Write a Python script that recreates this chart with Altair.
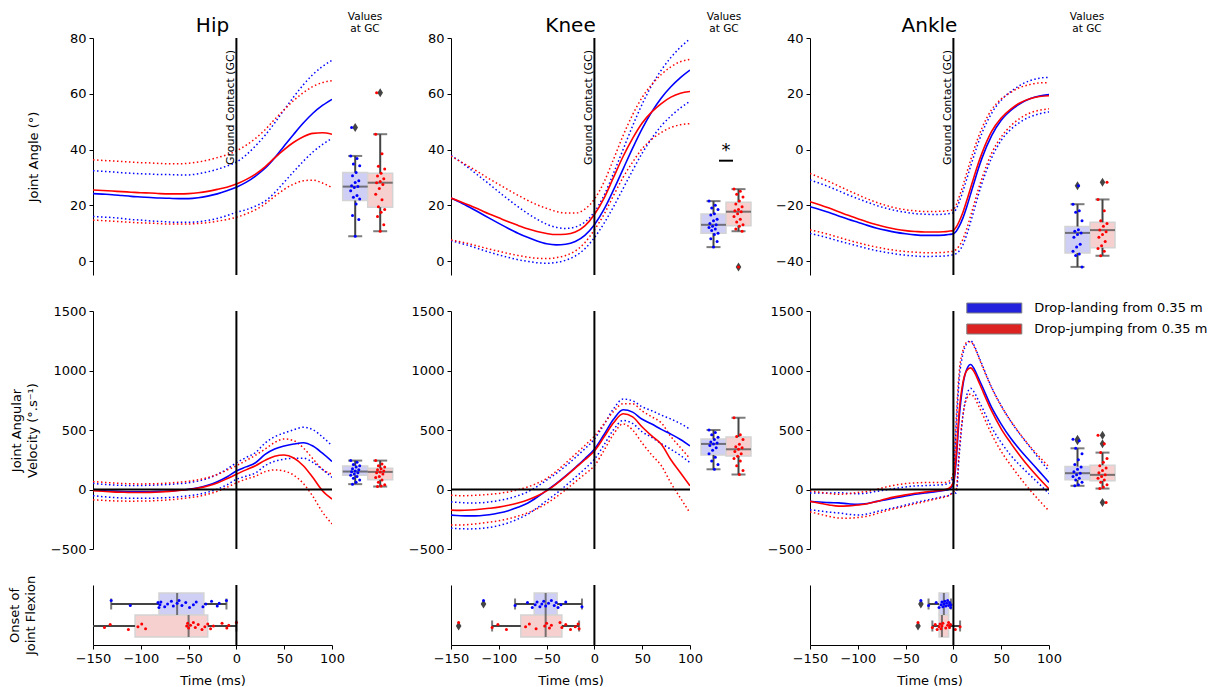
import altair as alt
import pandas as pd

# ---------------------------------------------------------------- data
GROUPS = ["Drop-landing from 0.35 m", "Drop-jumping from 0.35 m"]
LINE_COLORS = ["#0000ff", "#ff0000"]
LEGEND_COLORS = ["#2222dd", "#dd2222"]
BOX_FILLS = ["#cfcff6", "#f6cfcf"]
BOX_EDGE = "#d4d4d4"
DARK = "#444444"
FONT = "DejaVu Sans"
GC_TIME = 0

# time samples (ms relative to ground contact)
T = [-150, -140, -130, -120, -110, -100, -90, -80, -70, -60, -50, -40, -30, -20, -10,
     0, 10, 20, 30, 40, 50, 60, 70, 80, 90, 100]
T_ANKLE = [-150, -140, -130, -120, -110, -100, -90, -80, -70, -60, -50, -40, -30, -20, -10,
           -5, 0, 3, 6, 10, 14, 18, 22, 26, 30, 40, 50, 60, 70, 80, 90, 100]

# joint angles (deg): mean and SD
hip_ang_land_mean = [24.2, 24.0, 23.8, 23.5, 23.2, 23.0, 22.8, 22.6, 22.5, 22.4, 22.4, 22.7, 23.3, 24.1, 25.2,
                     26.5, 28.2, 30.5, 33.3, 37.0, 41.3, 45.5, 49.5, 53.0, 55.8, 58.0]
hip_ang_land_sd = [8.2, 8.2, 8.2, 8.2, 8.3, 8.3, 8.4, 8.4, 8.5, 8.5, 8.5, 8.6, 8.7, 8.8, 8.9,
                   9.0, 9.8, 10.8, 11.8, 12.5, 13.0, 13.4, 13.7, 13.9, 14.0, 14.0]
hip_ang_jump_mean = [25.5, 25.3, 25.1, 24.9, 24.7, 24.5, 24.4, 24.2, 24.1, 24.1, 24.2, 24.5, 25.0, 25.7, 26.5,
                     27.6, 29.2, 31.2, 33.8, 37.0, 40.0, 42.6, 44.6, 45.8, 46.0, 45.5]
hip_ang_jump_sd = [10.8, 10.8, 10.8, 10.8, 10.8, 10.8, 10.8, 10.8, 10.8, 10.8, 10.9, 11.0, 11.2, 11.4, 11.6,
                   11.9, 12.3, 12.8, 13.3, 13.8, 14.3, 15.0, 15.8, 16.8, 18.0, 19.2]

knee_ang_land_mean = [22.6, 21.0, 19.2, 17.3, 15.4, 13.5, 11.7, 10.0, 8.5, 7.2, 6.2, 5.8, 6.0, 7.0, 9.2,
                      13.0, 18.5, 25.5, 33.0, 40.5, 47.5, 53.5, 58.5, 62.5, 65.8, 68.5]
knee_ang_land_sd = [15.3, 14.6, 13.8, 13.0, 12.2, 11.3, 10.4, 9.5, 8.6, 7.8, 7.0, 6.3, 5.7, 5.2, 4.8,
                    4.6, 5.0, 6.0, 7.0, 8.0, 8.8, 9.5, 10.0, 10.5, 10.9, 11.2]
knee_ang_jump_mean = [22.6, 21.3, 19.9, 18.4, 16.9, 15.5, 14.1, 12.8, 11.6, 10.6, 9.9, 9.5, 9.6, 10.4, 12.6,
                      16.7, 22.5, 30.0, 37.5, 44.0, 49.5, 53.5, 56.5, 58.8, 60.2, 60.8]
knee_ang_jump_sd = [15.0, 14.4, 13.8, 13.2, 12.6, 12.0, 11.4, 10.8, 10.2, 9.6, 9.0, 8.3, 7.6, 6.8, 6.0,
                    5.5, 5.8, 6.5, 7.5, 8.5, 9.2, 9.8, 10.4, 10.9, 11.3, 11.5]

ank_ang_land_mean = [-20.5, -21.5, -22.6, -23.8, -25.0, -26.1, -27.2, -28.2, -29.0, -29.7, -30.2, -30.6, -30.8, -30.8, -30.7,
                     -30.5, -30.2, -29.3, -27.6, -24.5, -20.5, -16.0, -11.5, -7.0, -3.0,
                     5.0, 10.5, 14.0, 16.5, 18.2, 19.2, 19.7]
ank_ang_land_sd = [9.6, 9.4, 9.2, 9.0, 8.7, 8.5, 8.3, 8.1, 7.9, 7.8, 7.7, 7.6, 7.6, 7.5, 7.5,
                   7.5, 7.5, 8.0, 8.8, 9.6, 10.0, 10.0, 9.8, 9.4, 9.0,
                   8.0, 7.2, 6.8, 6.6, 6.5, 6.4, 6.2]
ank_ang_jump_mean = [-18.7, -19.8, -21.0, -22.3, -23.6, -24.8, -26.0, -27.0, -27.9, -28.6, -29.1, -29.4, -29.6, -29.6, -29.5,
                     -29.3, -29.0, -27.8, -25.8, -22.5, -18.3, -13.8, -9.3, -5.0, -1.2,
                     6.5, 11.3, 14.5, 16.8, 18.2, 19.0, 19.3]
ank_ang_jump_sd = [10.1, 9.8, 9.5, 9.2, 8.9, 8.6, 8.3, 8.0, 7.8, 7.6, 7.5, 7.4, 7.4, 7.4, 7.4,
                   7.4, 7.5, 8.0, 8.8, 9.6, 10.0, 10.0, 9.8, 9.4, 9.0,
                   7.8, 6.8, 6.0, 5.5, 5.1, 4.9, 4.7]

# joint angular velocities (deg/s): mean and SD
hip_vel_land_mean = [0, -8, -14, -18, -20, -20, -19, -16, -12, -6, 2, 15, 35, 65, 105,
                     155, 190, 225, 295, 340, 365, 382, 393, 365, 305, 235]
hip_vel_land_sd = [52, 52, 53, 53, 54, 54, 55, 55, 55, 55, 55, 56, 58, 62, 66,
                   70, 78, 86, 95, 103, 110, 120, 130, 137, 137, 133]
hip_vel_jump_mean = [-10, -15, -20, -23, -25, -25, -24, -21, -16, -9, 0, 12, 30, 55, 90,
                     128, 165, 200, 245, 280, 290, 265, 200, 100, -10, -80]
hip_vel_jump_sd = [77, 76, 75, 74, 73, 72, 72, 71, 71, 70, 70, 70, 70, 71, 72,
                   72, 78, 88, 95, 115, 135, 145, 150, 158, 180, 209]

knee_vel_land_mean = [-215, -220, -222, -220, -212, -198, -178, -150, -115, -65, -8, 50, 115, 185, 258,
                      338, 460, 590, 670, 650, 590, 550, 505, 465, 420, 366]
knee_vel_land_sd = [110, 110, 109, 108, 107, 105, 102, 98, 94, 90, 86, 84, 83, 83, 84,
                    85, 86, 88, 90, 95, 105, 112, 120, 127, 134, 140]
knee_vel_jump_mean = [-173, -175, -172, -166, -158, -148, -133, -113, -88, -55, -12, 45, 110, 180, 250,
                      324, 440, 560, 636, 610, 525, 450, 380, 250, 140, 31]
knee_vel_jump_sd = [125, 123, 121, 119, 117, 115, 113, 111, 109, 107, 105, 108, 112, 116, 120,
                    124, 112, 95, 85, 110, 135, 160, 180, 195, 212, 228]

ank_vel_land_mean = [-100, -105, -110, -112, -120, -125, -118, -100, -85, -70, -55, -40, -30, -20, -8,
                     0, 40, 250, 600, 880, 1010, 1050, 1010, 940, 870,
                     690, 550, 430, 330, 240, 150, 60]
ank_vel_land_sd = [70, 75, 80, 85, 88, 90, 88, 85, 82, 80, 76, 70, 63, 56, 50,
                   50, 70, 280, 320, 260, 215, 200, 195, 188, 180,
                   168, 155, 143, 130, 118, 105, 95]
ank_vel_jump_mean = [-100, -115, -130, -140, -138, -130, -120, -100, -78, -60, -45, -32, -22, -12, -3,
                     8, 60, 300, 650, 900, 1000, 1022, 985, 915, 840,
                     660, 510, 390, 280, 180, 90, 5]
ank_vel_jump_sd = [88, 92, 96, 100, 103, 105, 104, 102, 100, 98, 95, 88, 80, 70, 62,
                   60, 80, 300, 330, 270, 235, 220, 212, 206, 200,
                   195, 190, 186, 184, 183, 184, 185]

# values at ground contact: box statistics [low whisker, q1, median, q3, high whisker]
hip_ang_gc_land_box = [8.9, 21.7, 26.7, 31.8, 37.7]
hip_ang_gc_jump_box = [10.7, 19.3, 28.1, 31.5, 45.5]
hip_ang_gc_land_out = [47.9]
hip_ang_gc_jump_out = [60.4]
hip_ang_gc_land = [37.7, 36.8, 34.8, 34.2, 31.8, 30.6, 28.8, 28.2, 27.0, 26.7, 26.4, 25.2, 23.5, 22.9,
                   22.3, 20.5, 16.3, 14.9, 8.9, 47.9]
hip_ang_gc_jump = [45.5, 38.5, 34.0, 33.0, 31.5, 30.5, 29.5, 28.5, 28.1, 27.5, 26.0, 24.0, 22.0, 19.5,
                   18.5, 17.5, 16.0, 13.0, 10.7, 60.4]

knee_ang_gc_land_box = [5.0, 10.0, 13.0, 16.9, 21.5]
knee_ang_gc_jump_box = [10.7, 12.7, 17.7, 21.1, 25.8]
knee_ang_gc_land_out = []
knee_ang_gc_jump_out = [-2.1]
knee_ang_gc_land = [21.5, 20.0, 19.0, 18.5, 17.0, 16.5, 15.0, 14.5, 13.5, 13.0, 12.5, 12.0, 11.5, 11.0,
                    10.0, 9.5, 8.0, 7.0, 5.0]
knee_ang_gc_jump = [25.8, 25.0, 24.0, 23.0, 21.5, 20.5, 19.5, 18.5, 18.0, 17.7, 17.0, 16.0, 15.0, 14.0,
                    13.0, 12.5, 11.5, 10.7, -2.1]
knee_ang_sig_bar = 36.0
knee_ang_sig_star = 39.5

ank_ang_gc_land_box = [-42.1, -37.1, -29.9, -27.6, -19.6]
ank_ang_gc_jump_box = [-38.1, -35.2, -28.9, -26.1, -17.9]
ank_ang_gc_land_out = [-13.0]
ank_ang_gc_jump_out = [-11.7]
ank_ang_gc_land = [-19.6, -22.0, -22.5, -25.5, -28.8, -29.3, -29.9, -30.5, -31.5, -34.0, -35.0, -36.5,
                   -37.5, -38.0, -42.1, -13.0]
ank_ang_gc_jump = [-17.9, -22.0, -25.5, -26.5, -27.5, -28.9, -29.5, -30.5, -31.5, -33.0, -34.5, -35.5,
                   -36.5, -38.1, -11.7]

hip_vel_gc_land_box = [45, 120, 151, 198, 243]
hip_vel_gc_jump_box = [25, 81, 148, 179, 243]
hip_vel_gc_land_out = []
hip_vel_gc_jump_out = []
hip_vel_gc_land = [243, 230, 210, 200, 190, 175, 165, 155, 150, 140, 130, 120, 110, 95, 80, 60, 45]
hip_vel_gc_jump = [243, 215, 200, 190, 175, 165, 155, 148, 140, 130, 110, 100, 80, 60, 40, 30, 25]

knee_vel_gc_land_box = [170, 290, 383, 425, 500]
knee_vel_gc_jump_box = [126, 282, 338, 441, 603]
knee_vel_gc_land_out = []
knee_vel_gc_jump_out = []
knee_vel_gc_land = [500, 480, 460, 440, 420, 400, 390, 383, 370, 350, 330, 300, 270, 240, 210, 170]
knee_vel_gc_jump = [603, 460, 445, 420, 380, 360, 350, 338, 320, 300, 280, 260, 240, 200, 160, 126]

ank_vel_gc_land_box = [31, 81, 137, 193, 346]
ank_vel_gc_jump_box = [8, 73, 123, 204, 310]
ank_vel_gc_land_out = [422, 410]
ank_vel_gc_jump_out = [455, 385, -109]
ank_vel_gc_land = [422, 410, 346, 300, 250, 210, 190, 170, 150, 137, 125, 110, 95, 80, 60, 40, 31]
ank_vel_gc_jump = [455, 385, 310, 260, 230, 200, 180, 160, 140, 123, 110, 95, 80, 60, 40, 20, 8, -109]

# onset of joint flexion (ms)
hip_onset_land_box = [-131, -81, -62, -34, -10.4]
hip_onset_jump_box = [-155, -106, -50, -30, 0]
hip_onset_land_out = []
hip_onset_jump_out = []
hip_onset_land = [-131, -111, -82, -81, -80, -79, -75, -72, -68, -66, -62, -60, -57, -53, -49, -45, -42,
                  -35, -32, -26, -20, -18, -10.4]
hip_onset_jump = [-155, -138, -132, -113, -103, -99, -95, -52, -51, -50, -48, -45, -43, -40, -36, -33,
                  -30, -27, -24, -15, -10, -8, 0]

knee_onset_land_box = [-83, -63, -51, -39, -13]
knee_onset_jump_box = [-107, -77, -51, -34, -16]
knee_onset_land_out = [-116]
knee_onset_jump_out = [-142]
knee_onset_land = [-116, -83, -70, -65, -62, -60, -57, -55, -53, -51, -48, -45, -42, -40, -38, -35, -30, -13]
knee_onset_jump = [-142, -107, -101, -92, -72, -68, -61, -52, -50, -47, -45, -36, -34, -30, -25, -20, -17, -16]

ank_onset_land_box = [-26, -15, -10, -5, -2.5]
ank_onset_jump_box = [-22, -15, -12, -5, 7]
ank_onset_land_out = [-34]
ank_onset_jump_out = [-37]
ank_onset_land = [-34, -26, -18, -15, -13, -12, -11, -10, -9, -8, -7, -6, -5, -4, -3, -2.5]
ank_onset_jump = [-37, -22, -19, -17, -15, -14, -13, -12, -11, -8, -6, -5, -4, -3, 2, 7]

# ---------------------------------------------------------------- helpers
DIAMOND = "M0,-1L0.62,0L0,1L-0.62,0Z"
BAR_PATH = "M-1,-0.14H1V0.14H-1Z"
LEGEND_PATCH = "M-5.5,-1H5.5V1H-5.5Z"
LINE_W = 239
H1, H2, H3 = 237, 238, 60
BOX_BAND = 25       # width of one box (px)
ONSET_BAND = 22     # height of one horizontal box (px)

COLOR = alt.Color("group:N", scale=alt.Scale(domain=GROUPS, range=LINE_COLORS), legend=None)
BOX_FILL = alt.condition(alt.datum.group == GROUPS[0], alt.value(BOX_FILLS[0]), alt.value(BOX_FILLS[1]))
TSCALE = alt.Scale(domain=[-150, 100], nice=False, zero=False)


def jitter_expr(spread, half_band):
    return "((datum.k * 7) % 11 - 5) * " + str(spread) + " + " + str(half_band)


def curves_df(times, lm, ls, jm, js):
    rows = []
    for g, m, s in ((GROUPS[0], lm, ls), (GROUPS[1], jm, js)):
        assert len(times) == len(m) == len(s)
        for ti, mi, si in zip(times, m, s):
            rows.append(dict(t=ti, mean=mi, sd=si, group=g))
    return pd.DataFrame(rows)


def stats_df(sl, sj):
    keys = ["low", "q1", "med", "q3", "high"]
    rows = []
    for g, s in zip(GROUPS, (sl, sj)):
        r = dict(zip(keys, s))
        r["group"] = g
        rows.append(r)
    return pd.DataFrame(rows)


def values_df(vl, vj):
    rows = []
    for g, vals in zip(GROUPS, (vl, vj)):
        for k, v in enumerate(vals):
            rows.append(dict(group=g, value=v, k=k))
    return pd.DataFrame(rows, columns=["group", "value", "k"])


def line_panel(times, lm, ls, jm, js, ydom, yticks, height, ytitle=None, title_x=-53,
               title=None, zero=False, legend=False):
    df = curves_df(times, lm, ls, jm, js)
    ys = alt.Scale(domain=ydom, nice=False, zero=False)
    if ytitle is not None:
        yax = alt.Axis(values=yticks, format="d", title=ytitle, titleX=title_x,
                       titleBaseline="bottom", titleLineHeight=16)
    else:
        yax = alt.Axis(values=yticks, format="d", title=None)
    X = alt.X("t:Q", scale=TSCALE, axis=None)
    base = alt.Chart(df).transform_calculate(upper="datum.mean + datum.sd",
                                             lower="datum.mean - datum.sd")
    dotted = dict(strokeWidth=1.5, strokeDash=[1.5, 2.5], interpolate="monotone", clip=True)
    layers = [
        base.mark_line(**dotted).encode(x=X, y=alt.Y("upper:Q", scale=ys, axis=yax), color=COLOR),
        base.mark_line(**dotted).encode(x=X, y=alt.Y("lower:Q", scale=ys, axis=yax), color=COLOR),
        base.mark_line(strokeWidth=1.6, interpolate="monotone", clip=True).encode(
            x=X, y=alt.Y("mean:Q", scale=ys, axis=yax), color=COLOR),
    ]
    gc = pd.DataFrame({"t": [GC_TIME]})
    if zero:
        layers.append(alt.Chart(pd.DataFrame({"v": [0]})).mark_rule(color="black", strokeWidth=2).encode(
            y=alt.Y("v:Q", scale=ys, axis=yax)))
    layers.append(alt.Chart(gc).mark_rule(color="black", strokeWidth=2).encode(x=X))
    if not zero:
        layers.append(alt.Chart(gc).mark_text(text="Ground Contact (GC)", angle=270, align="left",
                                              baseline="bottom", fontSize=11, color="black").encode(
            x=X, y=alt.value(127)))
    if legend:
        layers.append(alt.Chart(pd.DataFrame({"group": GROUPS})).mark_square(opacity=0).encode(
            fill=alt.Fill("group:N", scale=alt.Scale(domain=GROUPS, range=LEGEND_COLORS),
                          legend=alt.Legend(orient="none", legendX=177.8, legendY=-9.5, title=None,
                                            symbolType=LEGEND_PATCH, symbolSize=100,
                                            symbolStrokeColor="#808080", symbolStrokeWidth=1,
                                            symbolOpacity=1, labelFontSize=13, labelFont=FONT,
                                            labelColor="black", labelOffset=33.5, rowPadding=6,
                                            labelLimit=400, padding=0))))
    ch = alt.layer(*layers).properties(width=LINE_W, height=height)
    if title is not None:
        ch = ch.properties(title=alt.TitleParams(text=title, fontSize=20, fontWeight="normal",
                                                 anchor="middle", offset=-4, color="black", font=FONT))
    return ch


def gc_panel(bl, bj, pl, pj, ol, oj, ydom, height, width, pad_left, title_dx=None, sig=None):
    xs = alt.Scale(domain=GROUPS, paddingInner=0, paddingOuter=0,
                   range=[pad_left, pad_left + 2 * BOX_BAND])
    X = alt.X("group:N", scale=xs, axis=None)
    ys = alt.Scale(domain=ydom, nice=False, zero=False)

    def Y(f):
        return alt.Y(f + ":Q", scale=ys, axis=None)

    st = stats_df(bl, bj)
    layers = [
        alt.Chart(st).mark_bar(stroke=BOX_EDGE, strokeWidth=1.5).encode(x=X, y=Y("q1"), y2="q3", fill=BOX_FILL),
        alt.Chart(st).mark_rule(color=DARK, strokeWidth=2).encode(x=X, y=Y("low"), y2="q1"),
        alt.Chart(st).mark_rule(color=DARK, strokeWidth=2).encode(x=X, y=Y("q3"), y2="high"),
        alt.Chart(st).mark_tick(color=DARK, thickness=2, size=14).encode(x=X, y=Y("low")),
        alt.Chart(st).mark_tick(color=DARK, thickness=2, size=14).encode(x=X, y=Y("high")),
        alt.Chart(st).mark_tick(color=DARK, thickness=2, size=BOX_BAND).encode(x=X, y=Y("med")),
        alt.Chart(values_df(ol, oj)).mark_point(shape=DIAMOND, filled=True, color=DARK, size=81,
                                                 opacity=1).encode(x=X, y=Y("value")),
        alt.Chart(values_df(pl, pj)).transform_calculate(
            jit=jitter_expr(0.9, BOX_BAND / 2)).mark_circle(size=9, opacity=1).encode(
            x=X, y=Y("value"), xOffset=alt.XOffset("jit:Q", scale=None), color=COLOR),
    ]
    if sig is not None:
        sd = pd.DataFrame({"group": [GROUPS[0]], "bar": [sig[0]], "star": [sig[1]]})
        XB = alt.X("group:N", scale=xs, axis=None, bandPosition=1)
        layers.append(alt.Chart(sd).mark_point(shape=BAR_PATH, filled=True, color="black", size=196,
                                               opacity=1).encode(x=XB, y=Y("bar")))
        layers.append(alt.Chart(sd).mark_text(text="*", fontSize=18, baseline="middle", color="black").encode(
            x=XB, y=Y("star")))
    ch = alt.layer(*layers).properties(width=width, height=height)
    if title_dx is not None:
        ch = ch.properties(title=alt.TitleParams(text=["Values", "at GC"], fontSize=10.5, lineHeight=12,
                                                 fontWeight="normal", anchor="middle", offset=4,
                                                 dx=title_dx, color="black", font=FONT))
    return ch


def onset_panel(bl, bj, pl, pj, ol, oj, ytitle=False):
    ys = alt.Scale(domain=GROUPS, paddingInner=0, paddingOuter=(H3 / ONSET_BAND - 2) / 2)
    if ytitle:
        yax = alt.Axis(title=["Onset of", "Joint Flexion"], labels=False, ticks=False, titleX=-72,
                       titleBaseline="bottom", titleLineHeight=16)
    else:
        yax = alt.Axis(title=None, labels=False, ticks=False)
    Yb = alt.Y("group:N", scale=ys, axis=yax)
    xax = alt.Axis(values=[-150, -100, -50, 0, 50, 100], format="d", title="Time (ms)", titlePadding=9,
                   labelOverlap=False, labelFlush=False)

    def X(f):
        return alt.X(f + ":Q", scale=TSCALE, axis=xax)

    st = stats_df(bl, bj)
    layers = [
        alt.Chart(st).mark_bar(stroke=BOX_EDGE, strokeWidth=1.5, clip=True).encode(
            x=X("q1"), x2="q3", y=Yb, fill=BOX_FILL),
        alt.Chart(st).mark_rule(color=DARK, strokeWidth=2, clip=True).encode(x=X("low"), x2="q1", y=Yb),
        alt.Chart(st).mark_rule(color=DARK, strokeWidth=2, clip=True).encode(x=X("q3"), x2="high", y=Yb),
        alt.Chart(st).mark_tick(color=DARK, thickness=2, size=11, clip=True).encode(x=X("low"), y=Yb),
        alt.Chart(st).mark_tick(color=DARK, thickness=2, size=11, clip=True).encode(x=X("high"), y=Yb),
        alt.Chart(st).mark_tick(color=DARK, thickness=2, size=ONSET_BAND).encode(x=X("med"), y=Yb),
        alt.Chart(values_df(ol, oj)).mark_point(shape=DIAMOND, filled=True, color=DARK, size=81,
                                                 opacity=1).encode(x=X("value"), y=Yb),
        alt.Chart(values_df(pl, pj)).transform_calculate(
            jit=jitter_expr(0.7, ONSET_BAND / 2)).mark_circle(size=9, opacity=1, clip=True).encode(
            x=X("value"), y=Yb, yOffset=alt.YOffset("jit:Q", scale=None), color=COLOR),
        alt.Chart(pd.DataFrame({"t": [GC_TIME]})).mark_rule(color="black", strokeWidth=2).encode(x=X("t")),
    ]
    return alt.layer(*layers).properties(width=LINE_W, height=H3)


def spacer(width):
    return alt.Chart(pd.DataFrame({"v": [0]})).mark_point(opacity=0).encode(
        x=alt.value(0), y=alt.value(0)).properties(width=width, height=H3)


# ---------------------------------------------------------------- panels
ANG_TICKS = [0, 20, 40, 60, 80]
ANK_TICKS = [-40, -20, 0, 20, 40]
VEL_TICKS = [-500, 0, 500, 1000, 1500]
W_HIP, W_KNEE, W_ANK = 111, 112, 80

cells = [
    # row 1: joint angles
    line_panel(T, hip_ang_land_mean, hip_ang_land_sd, hip_ang_jump_mean, hip_ang_jump_sd,
               [-5, 80], ANG_TICKS, H1, ytitle="Joint Angle (°)", title_x=-52.5, title="Hip"),
    gc_panel(hip_ang_gc_land_box, hip_ang_gc_jump_box, hip_ang_gc_land, hip_ang_gc_jump,
             hip_ang_gc_land_out, hip_ang_gc_jump_out, [-5, 80], H1, W_HIP, 6.7, title_dx=-26.5),
    line_panel(T, knee_ang_land_mean, knee_ang_land_sd, knee_ang_jump_mean, knee_ang_jump_sd,
               [-5, 80], ANG_TICKS, H1, title="Knee"),
    gc_panel(knee_ang_gc_land_box, knee_ang_gc_jump_box, knee_ang_gc_land, knee_ang_gc_jump,
             knee_ang_gc_land_out, knee_ang_gc_jump_out, [-5, 80], H1, W_KNEE, 7, title_dx=-26,
             sig=(knee_ang_sig_bar, knee_ang_sig_star)),
    line_panel(T_ANKLE, ank_ang_land_mean, ank_ang_land_sd, ank_ang_jump_mean, ank_ang_jump_sd,
               [-45, 40], ANK_TICKS, H1, title="Ankle"),
    gc_panel(ank_ang_gc_land_box, ank_ang_gc_jump_box, ank_ang_gc_land, ank_ang_gc_jump,
             ank_ang_gc_land_out, ank_ang_gc_jump_out, [-45, 40], H1, W_ANK, 12, title_dx=-6),
    # row 2: joint angular velocities
    line_panel(T, hip_vel_land_mean, hip_vel_land_sd, hip_vel_jump_mean, hip_vel_jump_sd,
               [-500, 1500], VEL_TICKS, H2, ytitle=["Joint Angular", "Velocity (°.s⁻¹)"], title_x=-69.5,
               zero=True),
    gc_panel(hip_vel_gc_land_box, hip_vel_gc_jump_box, hip_vel_gc_land, hip_vel_gc_jump,
             hip_vel_gc_land_out, hip_vel_gc_jump_out, [-500, 1500], H2, W_HIP, 6.7),
    line_panel(T, knee_vel_land_mean, knee_vel_land_sd, knee_vel_jump_mean, knee_vel_jump_sd,
               [-500, 1500], VEL_TICKS, H2, zero=True),
    gc_panel(knee_vel_gc_land_box, knee_vel_gc_jump_box, knee_vel_gc_land, knee_vel_gc_jump,
             knee_vel_gc_land_out, knee_vel_gc_jump_out, [-500, 1500], H2, W_KNEE, 7),
    line_panel(T_ANKLE, ank_vel_land_mean, ank_vel_land_sd, ank_vel_jump_mean, ank_vel_jump_sd,
               [-500, 1500], VEL_TICKS, H2, zero=True, legend=True),
    gc_panel(ank_vel_gc_land_box, ank_vel_gc_jump_box, ank_vel_gc_land, ank_vel_gc_jump,
             ank_vel_gc_land_out, ank_vel_gc_jump_out, [-500, 1500], H2, W_ANK, 12),
    # row 3: onset of joint flexion
    onset_panel(hip_onset_land_box, hip_onset_jump_box, hip_onset_land, hip_onset_jump,
                hip_onset_land_out, hip_onset_jump_out, ytitle=True),
    spacer(W_HIP),
    onset_panel(knee_onset_land_box, knee_onset_jump_box, knee_onset_land, knee_onset_jump,
                knee_onset_land_out, knee_onset_jump_out),
    spacer(W_KNEE),
    onset_panel(ank_onset_land_box, ank_onset_jump_box, ank_onset_land, ank_onset_jump,
                ank_onset_land_out, ank_onset_jump_out),
    spacer(W_ANK),
]

chart = alt.concat(*cells, columns=6, spacing={"row": 36, "column": 4}, bounds="flush",
                   align="each").properties(
    padding={"left": 0, "top": 3, "right": 0, "bottom": 0}).resolve_legend(fill="independent")
chart = chart.configure(font=FONT).configure_view(stroke=None).configure_axis(
    domainColor="black", domainWidth=1, tickColor="black", tickWidth=1, tickSize=4,
    labelColor="black", labelFontSize=13, labelFont=FONT, labelPadding=3,
    titleColor="black", titleFontSize=13, titleFont=FONT, titleFontWeight="normal", grid=False,
).configure_title(font=FONT, color="black", fontWeight="normal")

chart.save("out.html", embed_options={"renderer": "svg", "actions": False})
